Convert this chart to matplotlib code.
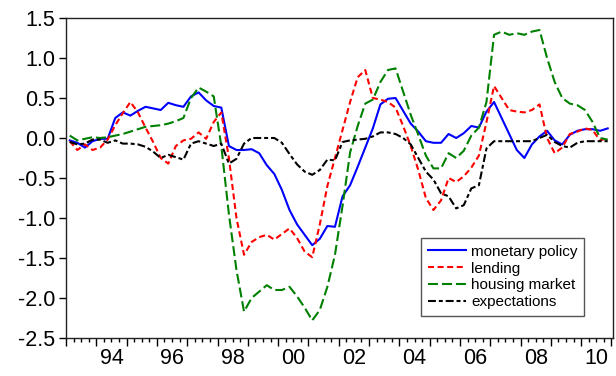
import matplotlib
matplotlib.use("Agg")
import matplotlib.pyplot as plt
from matplotlib.ticker import FixedLocator, FixedFormatter, FormatStrFormatter

plt.rcParams['font.family'] = ['Liberation Sans', 'DejaVu Sans']
plt.rcParams['axes.unicode_minus'] = False

# quarterly data, 1993Q1 - 2010Q4
start_year = 1993
n_quarters = 72

monetary_policy = [
    -0.03, -0.06, -0.12, -0.04, -0.01, -0.01, 0.25, 0.32, 0.28, 0.34,
    0.39, 0.37, 0.35, 0.44, 0.41, 0.39, 0.52, 0.57, 0.47, 0.40,
    0.38, -0.10, -0.15, -0.15, -0.14, -0.19, -0.34, -0.45, -0.65, -0.90,
    -1.08, -1.21, -1.34, -1.26, -1.10, -1.11, -0.73, -0.59, -0.36, -0.12,
    0.12, 0.42, 0.49, 0.50, 0.34, 0.18, 0.08, -0.04, -0.06, -0.06,
    0.05, 0.00, 0.06, 0.15, 0.13, 0.33, 0.45, 0.25, 0.05, -0.15,
    -0.25, -0.08, 0.02, 0.09, -0.03, -0.08, 0.04, 0.09, 0.11, 0.11,
    0.09, 0.12,
]

lending = [
    -0.04, -0.15, -0.08, -0.15, -0.12, -0.02, 0.16, 0.31, 0.45, 0.32,
    0.13, -0.05, -0.25, -0.32, -0.10, -0.03, -0.01, 0.07, -0.01, 0.20,
    0.32, -0.25, -1.00, -1.46, -1.30, -1.24, -1.21, -1.27, -1.20, -1.13,
    -1.25, -1.42, -1.49, -1.08, -0.60, -0.25, 0.10, 0.45, 0.76, 0.85,
    0.50, 0.48, 0.45, 0.38, 0.15, -0.10, -0.40, -0.75, -0.90, -0.78,
    -0.50, -0.55, -0.48, -0.37, -0.22, 0.20, 0.65, 0.50, 0.35, 0.33,
    0.32, 0.35, 0.42, 0.00, -0.19, -0.12, 0.05, 0.08, 0.12, 0.10,
    -0.03, 0.00,
]

housing_market = [
    0.03, -0.03, -0.01, 0.01, 0.00, 0.01, 0.03, 0.05, 0.08, 0.11,
    0.14, 0.15, 0.16, 0.18, 0.21, 0.25, 0.50, 0.63, 0.58, 0.52,
    -0.10, -0.95, -1.65, -2.17, -2.00, -1.92, -1.84, -1.90, -1.90, -1.86,
    -1.98, -2.12, -2.28, -2.15, -1.86, -1.46, -0.85, -0.18, 0.15, 0.43,
    0.48, 0.70, 0.85, 0.87, 0.58, 0.29, 0.04, -0.22, -0.38, -0.38,
    -0.19, -0.25, -0.16, 0.03, 0.13, 0.45, 1.29, 1.33, 1.29, 1.31,
    1.29, 1.33, 1.35, 1.00, 0.70, 0.50, 0.43, 0.41, 0.35, 0.20,
    0.00, -0.02,
]

expectations = [
    -0.05, -0.08, -0.07, -0.02, -0.02, -0.06, -0.03, -0.07, -0.07, -0.08,
    -0.11, -0.17, -0.25, -0.21, -0.24, -0.27, -0.07, -0.04, -0.07, -0.10,
    -0.07, -0.32, -0.26, -0.07, 0.00, 0.00, 0.00, 0.00, -0.06, -0.20,
    -0.33, -0.42, -0.46, -0.40, -0.27, -0.28, -0.05, -0.03, -0.02, -0.01,
    0.02, 0.07, 0.07, 0.05, 0.00, -0.08, -0.25, -0.42, -0.52, -0.69,
    -0.73, -0.88, -0.84, -0.63, -0.59, -0.13, -0.04, -0.04, -0.04, -0.04,
    -0.04, -0.04, 0.00, 0.04, -0.05, -0.10, -0.12, -0.06, -0.04, -0.04,
    -0.04, -0.04,
]

year_labels = ['94', '96', '98', '00', '02', '04', '06', '08', '10']
label_years = [1994, 1996, 1998, 2000, 2002, 2004, 2006, 2008, 2010]

# each quarter drawn in the middle of its interval
t = [start_year + 0.125 + i * 0.25 for i in range(n_quarters)]

fig = plt.figure(figsize=(6.16, 3.76), dpi=100)
ax = fig.add_axes([66 / 616, 1 - 338 / 376, 547 / 616, 320 / 376])

lw = 1.5
ax.plot(t, monetary_policy, color='#0000ff', lw=lw, label='monetary policy')
ax.plot(t, lending, color='#ff0000', lw=lw, dashes=(2.9, 1.7), label='lending')
ax.plot(t, housing_market, color='#008000', lw=lw, dashes=(4.8, 1.9), label='housing market')
ax.plot(t, expectations, color='black', lw=lw, dashes=(3.8, 1.4, 1.9, 1.4), label='expectations')

ax.set_xlim(1993, 2011.05)
ax.set_ylim(-2.5, 1.5)

# y axis
ax.set_yticks([-2.5, -2.0, -1.5, -1.0, -0.5, 0.0, 0.5, 1.0, 1.5])
ax.yaxis.set_major_formatter(FormatStrFormatter('%.1f'))
ax.tick_params(axis='y', direction='out', length=5, width=1, labelsize=15.5, pad=3)

# x axis: long ticks at year starts, short ticks at quarters, labels mid-year
years = list(range(1993, 2012))
quarters = [start_year + q * 0.25 for q in range(18 * 4 + 1) if q % 4 != 0]
ax.xaxis.set_major_locator(FixedLocator(years))
ax.xaxis.set_major_formatter(FixedFormatter([''] * len(years)))
minor_pos = sorted(quarters)
minor_lab = []
for p in minor_pos:
    lab = ''
    for y, s in zip(label_years, year_labels):
        if abs(p - (y + 0.5)) < 1e-6:
            lab = s
    minor_lab.append(lab)
ax.xaxis.set_minor_locator(FixedLocator(minor_pos))
ax.xaxis.set_minor_formatter(FixedFormatter(minor_lab))
ax.tick_params(axis='x', which='major', direction='out', length=6, width=1)
ax.tick_params(axis='x', which='minor', direction='out', length=3, width=1,
               labelsize=15.5, pad=4)

for sp in ax.spines.values():
    sp.set_linewidth(1.0)
    sp.set_color('#222222')

leg = ax.legend(loc='lower left', bbox_to_anchor=(0.649, 0.069), borderaxespad=0,
                fontsize=11, handlelength=2.5, handletextpad=0.33,
                labelspacing=0.18, borderpad=0.45, fancybox=False, framealpha=1)
leg.get_frame().set_edgecolor('#555555')
leg.get_frame().set_linewidth(1.0)

fig.savefig('out.png', dpi=100)
